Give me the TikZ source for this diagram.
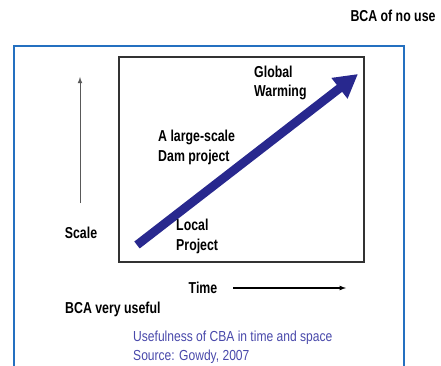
\documentclass[tikz,border=0pt]{standalone}
\usepackage{fontspec}
\setmainfont{Liberation Sans}
\newfontfamily\narrowfont[FakeStretch=0.78]{Liberation Sans}
\newfontfamily\capfont[FakeStretch=0.83]{Liberation Sans}
\usetikzlibrary{arrows.meta}

\definecolor{frameblue}{RGB}{36,112,192}
\definecolor{arrowblue}{RGB}{40,40,142}
\definecolor{capblue}{RGB}{72,72,170}
\definecolor{boxgray}{RGB}{50,50,50}

\tikzset{
	lbl/.style={font=\narrowfont\bfseries\fontsize{13.5}{16.5}\selectfont, align=left, inner sep=0},
	captxt/.style={font=\capfont\fontsize{12.4}{16}\selectfont, text=capblue, align=left, inner sep=0}
}

\begin{document}
\begin{tikzpicture}[x=0.03cm,y=-0.03cm]
	\useasboundingbox (0,0) rectangle (441,366);
	
	% blue frame, cut at the bottom
	\coordinate (FL) at (14,366);
	\coordinate (FTL) at (14,46);
	\coordinate (FTR) at (404,46);
	\coordinate (FR) at (404,366);
	\draw[frameblue, line width=2pt] (FL) -- (FTL) -- (FTR) -- (FR);
	
	% title top right
	\node[lbl] (nouse) at (393,16) {BCA of no use};
	
	% inner box
	\coordinate (BL) at (119,262);
	\coordinate (TR) at (364,57);
	\draw[boxgray, line width=1.6pt] (BL) rectangle (TR);
	
	% scale axis
	\coordinate (S0) at (80,203);
	\coordinate (S1) at (80,77);
	\draw[-latex, gray!70!black, line width=0.8pt] (S0) -- (S1);
	\node[lbl] (scale) at (81,233) {Scale};
	
	% time axis
	\node[lbl] (time) at (203,288) {Time};
	\coordinate (T0) at (233,288);
	\coordinate (T1) at (346,288);
	\draw[-latex, line width=0.9pt] (T0) -- (T1);
	
	% big arrow
	\coordinate (A0) at (137,245);
	\coordinate (A1) at (358,74);
	\draw[arrowblue, line width=7.5pt, -{Triangle[length=20pt,width=21pt]}] (A0) -- (A1);
	
	% labels in the box
	\node[lbl, anchor=west] (global) at (254,83) {Global\\Warming};
	\node[lbl, anchor=west] (dam) at (158,147.5) {A large-scale\\Dam project};
	\node[lbl, anchor=west] (local) at (176,236.5) {Local\\Project};
	
	% below the box
	\node[lbl, anchor=west] (useful) at (65,309) {BCA very useful};
	\node[captxt, anchor=west] (source) at (133,347.5) {Usefulness of CBA in time and space\\Source: Gowdy, 2007};
\end{tikzpicture}
\end{document}
